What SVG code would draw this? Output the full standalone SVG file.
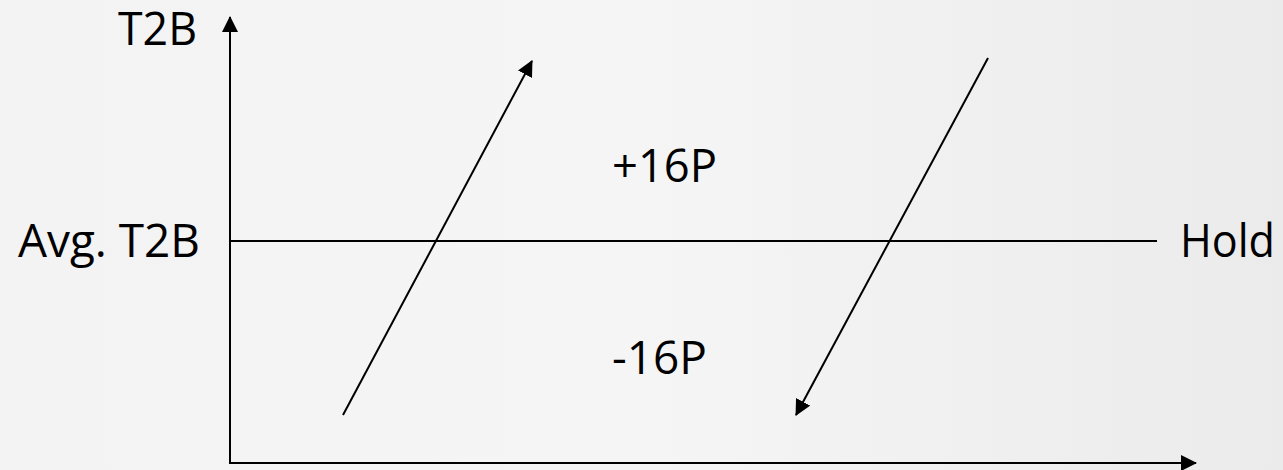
<svg xmlns="http://www.w3.org/2000/svg" width="1283" height="470" viewBox="0 0 1283 470">
  <defs>
    <linearGradient id="bg" x1="0" y1="0" x2="1" y2="0">
      <stop offset="0" stop-color="#f3f3f3"/>
      <stop offset="0.5" stop-color="#f5f5f5"/>
      <stop offset="1" stop-color="#ebebeb"/>
    </linearGradient>
    <marker id="arrow" markerUnits="userSpaceOnUse" markerWidth="16" markerHeight="16" viewBox="0 0 16 16" refX="15" refY="8" orient="auto">
      <path d="M0,0 L16,8 L0,16 Z" fill="#000"/>
    </marker>
    <style>
      .lbl { font-family: "Open Sans", "Noto Sans", "Liberation Sans", sans-serif; font-size: 46px; fill: #000; }
      .ln { stroke: #000; stroke-width: 2; fill: none; }
      .arr { stroke: #000; stroke-width: 2; fill: none; marker-end: url(#arrow); }
    </style>
  </defs>
  <rect x="0" y="0" width="1283" height="470" fill="url(#bg)"/>
  <g id="connectors">
    <line class="arr" x1="230" y1="464" x2="230" y2="17"/>
    <line class="arr" x1="229" y1="463" x2="1196" y2="463"/>
    <line class="ln" x1="230" y1="241" x2="1157" y2="241"/>
    <line class="arr" x1="343" y1="415" x2="532" y2="61"/>
    <line class="arr" x1="988" y1="58" x2="796" y2="415"/>
  </g>
  <g id="label-t2b"><text class="lbl" x="118" y="45" textLength="79" lengthAdjust="spacingAndGlyphs">T2B</text></g>
  <g id="label-avg"><text class="lbl" x="18" y="257" textLength="182" lengthAdjust="spacingAndGlyphs">Avg. T2B</text></g>
  <g id="label-hold"><text class="lbl" x="1180" y="257" textLength="95" lengthAdjust="spacingAndGlyphs">Hold</text></g>
  <g id="label-plus"><text class="lbl" x="612" y="182" textLength="105" lengthAdjust="spacingAndGlyphs">+16P</text></g>
  <g id="label-minus"><text class="lbl" x="612" y="374" textLength="95" lengthAdjust="spacingAndGlyphs">-16P</text></g>
</svg>
